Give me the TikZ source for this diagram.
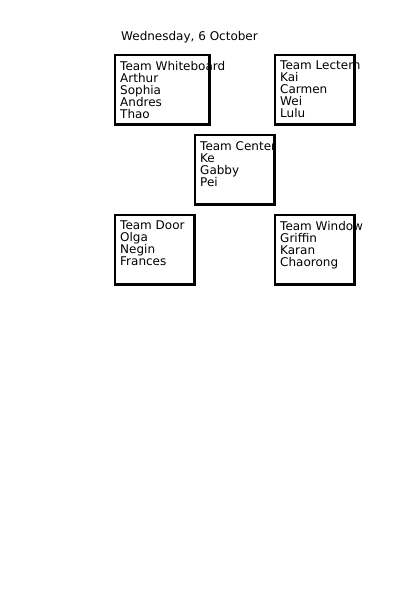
\documentclass[tikz,border=0pt]{standalone}
\usepackage{fontspec}
\setmainfont{DejaVu Sans}
\begin{document}
\begin{tikzpicture}[x=1pt,y=-1pt,
  teambox/.style={draw=black,line width=2.2pt,fill=none},
  teamtext/.style={anchor=north west,inner sep=0pt,align=left,font=\fontsize{12}{12}\selectfont},
  datetext/.style={anchor=base west,inner sep=0pt,font=\fontsize{12}{12}\selectfont}]
\useasboundingbox[fill=white] (0,0) rectangle (400,600);
\node[datetext] (date) at (121,40.5) {Wednesday, 6 October};
% boxes
\draw[teambox] (115,55) rectangle (209.5,124.5);
\draw[teambox] (275,55) rectangle (354.5,124.5);
\draw[teambox] (195,135) rectangle (274.5,204.5);
\draw[teambox] (115,215) rectangle (194.5,284.5);
\draw[teambox] (275,215) rectangle (354.5,284.5);
% texts
\node[teamtext] (twb) at (120,61) {Team Whiteboard\\Arthur\\Sophia\\Andres\\Thao};
\node[teamtext] (tlc) at (280,61) {Team Lectern\\Kai\\Carmen\\Wei\\Lulu};
\node[teamtext] (tce) at (200,141.5) {Team Center\\Ke\\Gabby\\Pei};
\node[teamtext] (tdo) at (120,221) {Team Door\\Olga\\Negin\\Frances};
\node[teamtext] (twi) at (280,221) {Team Window\\Griffin\\Karan\\Chaorong};
\end{tikzpicture}
\end{document}
